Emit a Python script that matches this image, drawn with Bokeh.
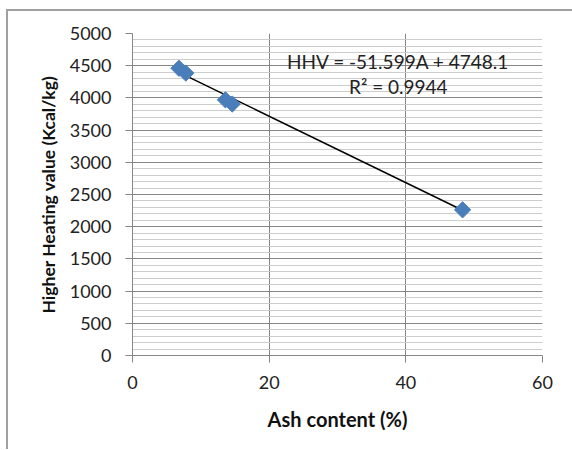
from bokeh.plotting import figure
from bokeh.models import Range1d, SingleIntervalTicker, Label
from bokeh.embed import file_html
from bokeh.resources import INLINE

# Data
ash = [6.8, 7.8, 13.6, 14.6, 48.3]          # Ash content (%)
hhv = [4460, 4385, 3970, 3905, 2262]        # Higher heating value (Kcal/kg)
slope = -51.599
intercept = 4748.1
eq_text = "HHV = -51.599A + 4748.1"
r2_text = "R\u00b2 = 0.9944"

trend_x = [min(ash), max(ash)]
trend_y = [slope * v + intercept for v in trend_x]

FONT = "Lato"
GRID_MAJOR = "#878787"
GRID_MINOR = "#cdcdcd"

p = figure(width=564, height=438, output_backend="svg", toolbar_location=None,
           x_range=Range1d(0, 60), y_range=Range1d(0, 5000),
           min_border_left=124, min_border_top=22, min_border_right=30, min_border_bottom=94)
p.frame_width = 410
p.frame_height = 322
p.outline_line_color = None
p.background_fill_color = "white"
p.border_fill_color = "white"
p.styles = {"margin-left": "6px", "margin-top": "9px",
            "border-left": "2px solid #a0a0a0", "border-top": "2px solid #a0a0a0"}

p.xaxis.ticker = SingleIntervalTicker(interval=20, num_minor_ticks=0)
p.yaxis.ticker = SingleIntervalTicker(interval=500, num_minor_ticks=5)

for ax in (p.xaxis[0], p.yaxis[0]):
    ax.axis_line_color = GRID_MAJOR
    ax.major_tick_line_color = GRID_MAJOR
    ax.major_tick_out = 7
    ax.major_tick_in = 0
    ax.minor_tick_line_color = None
    ax.major_label_text_font = FONT
    ax.major_label_text_font_size = "18px"
    ax.major_label_text_color = "#222222"
    ax.axis_label_text_font = FONT
    ax.axis_label_text_font_style = "bold"
    ax.axis_label_text_color = "#111111"

p.xaxis.axis_label = "Ash content (%)"
p.yaxis.axis_label = "Higher Heating value (Kcal/kg)"
p.xaxis.axis_label_text_font_size = "20px"
p.yaxis.axis_label_text_font_size = "17.5px"
p.xaxis.major_label_standoff = 13
p.xaxis.axis_label_standoff = 15
p.yaxis.major_label_standoff = 14
p.yaxis.axis_label_standoff = 8

p.xgrid.grid_line_color = GRID_MAJOR
p.ygrid.grid_line_color = GRID_MAJOR
p.ygrid.minor_grid_line_color = GRID_MINOR
p.xgrid.minor_grid_line_color = None

p.line(trend_x, trend_y, line_color="black", line_width=1.5)
p.scatter(ash, hhv, marker="square", angle=0.785398, size=11.5,
          fill_color="#4a7ebb", line_color="#4a7ebb")

p.add_layout(Label(x=38.9, y=4565, text=eq_text, text_align="center",
                   text_baseline="middle", text_font=FONT, text_font_size="19px",
                   text_color="#222222"))
p.add_layout(Label(x=38.9, y=4177, text=r2_text, text_align="center",
                   text_baseline="middle", text_font=FONT, text_font_size="19px",
                   text_color="#222222"))

open("out.html", "w").write(file_html(p, INLINE))
